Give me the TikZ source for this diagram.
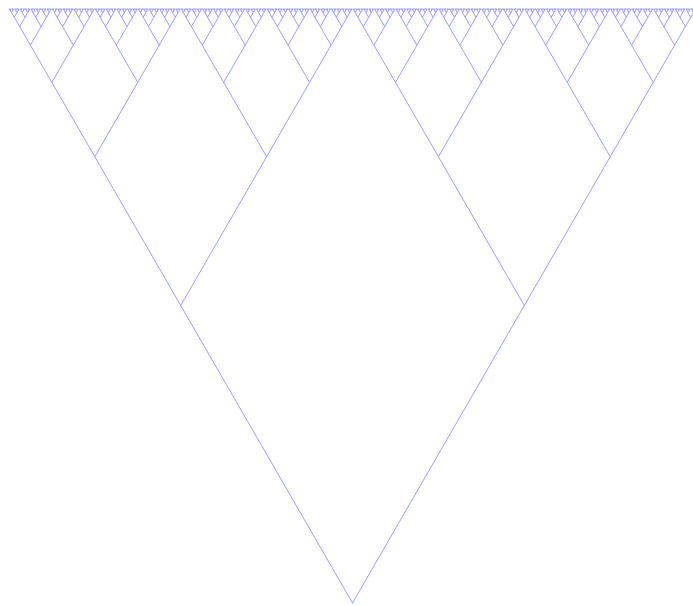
\documentclass[tikz,border=0pt]{standalone}
\definecolor{branchblue}{RGB}{165,165,255}
\begin{document}
\begin{tikzpicture}[x=1pt, y=1pt,
    branch/.style={draw=branchblue, line width=0.8pt, line join=miter}
]
\useasboundingbox (0,0) rectangle (693,605);

% Levels of the tree: each one a row of V shapes, half the size of the row below
\foreach \k in {1,...,10} {
  \pgfmathsetmacro\dx{171.8/2^(\k-1)}
  \pgfmathsetmacro\dy{297.5/2^(\k-1)}
  \pgfmathsetmacro\ybase{2+2*297.5*(1-2^(1-\k))}
  \pgfmathtruncatemacro\n{2^(\k-1)-1}
  \foreach \m in {0,...,\n} {
    \pgfmathsetmacro\xp{352.5+(2*\m-\n)*2*\dx}
    \draw[branch] (\xp-\dx,\ybase+\dy) -- (\xp,\ybase) -- (\xp+\dx,\ybase+\dy);
  }
}
\end{tikzpicture}
\end{document}
